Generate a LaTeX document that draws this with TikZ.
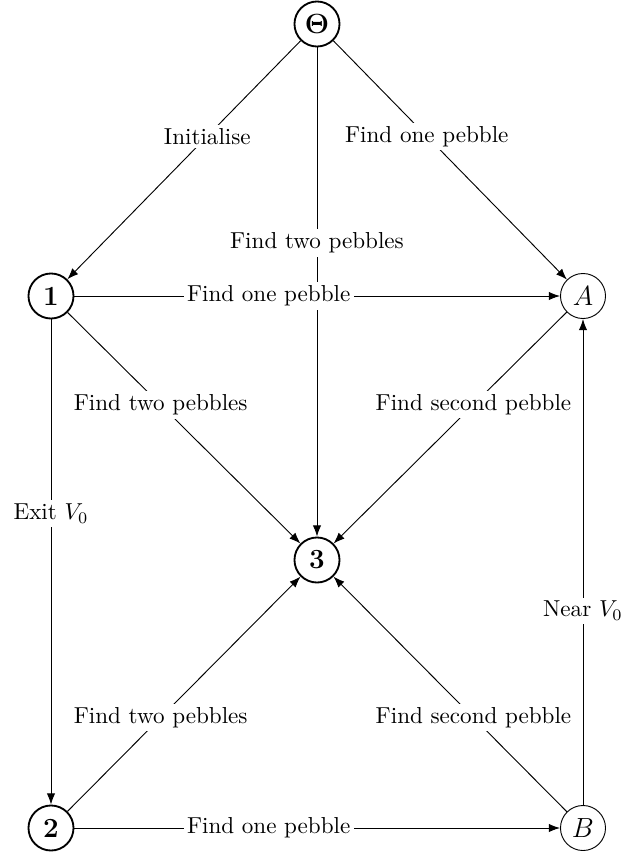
\documentclass[tikz,border=0pt]{standalone}
\usetikzlibrary{arrows.meta}
\begin{document}
\begin{tikzpicture}[x=0.433pt,y=-0.433pt,
  bnode/.style={draw,circle,line width=0.8pt,inner sep=0.5pt,minimum size=19.5pt,font=\large\bfseries},
  inode/.style={draw,circle,line width=0.4pt,inner sep=0.5pt,minimum size=19.5pt,font=\large},
  edge/.style={-Latex,line width=0.4pt},
  lab/.style={fill=white,inner sep=1.5pt,pos=0.4}]
\useasboundingbox (0,0) rectangle (625,853);
\node[bnode] (T) at (317,24) {$\mathbf{\Theta}$};
\node[bnode] (n1) at (51,296) {1};
\node[inode] (A) at (583,296) {$A$};
\node[bnode] (n3) at (317,560) {3};
\node[bnode] (n2) at (51,828) {2};
\node[inode] (B) at (583,828) {$B$};
\draw[edge] (T) -- node[lab] {Find two pebbles} (n3);
\draw[edge] (B) -- node[lab] {Near $V_0$} (A);
\draw[edge] (T) -- node[lab] {Initialise} (n1);
\draw[edge] (T) -- node[lab] {Find one pebble} (A);
\draw[edge] (n1) -- node[lab] {Find one pebble} (A);
\draw[edge] (n1) -- node[lab] {Find two pebbles} (n3);
\draw[edge] (A) -- node[lab] {Find second pebble} (n3);
\draw[edge] (n1) -- node[lab] {Exit $V_0$} (n2);
\draw[edge] (n2) -- node[lab] {Find two pebbles} (n3);
\draw[edge] (B) -- node[lab] {Find second pebble} (n3);
\draw[edge] (n2) -- node[lab] {Find one pebble} (B);
\end{tikzpicture}
\end{document}
